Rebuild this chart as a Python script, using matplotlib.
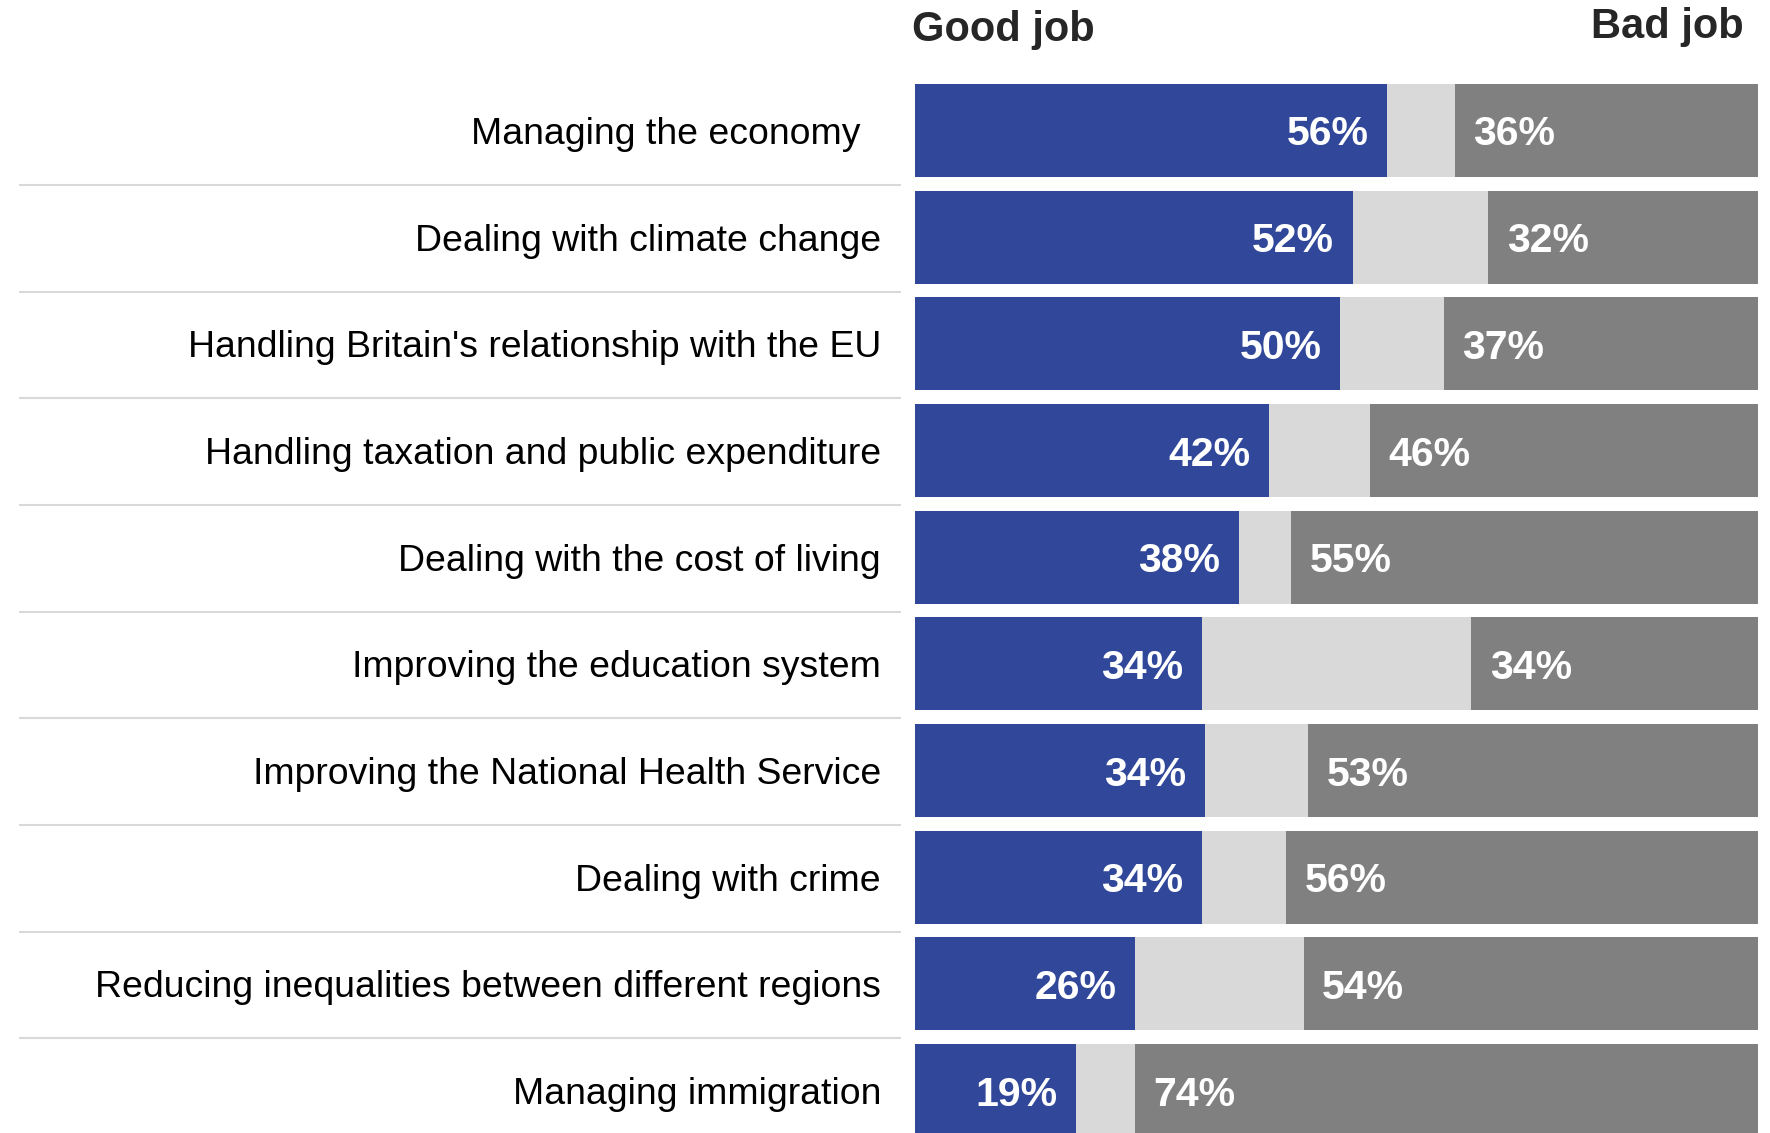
import matplotlib
matplotlib.use("Agg")
import matplotlib.pyplot as plt
import matplotlib.transforms as mtransforms

# ---------- DATA ----------
ISSUES = [
    "Managing the economy  ",
    "Dealing with climate change",
    "Handling Britain's relationship with the EU",
    "Handling taxation and public expenditure",
    "Dealing with the cost of living",
    "Improving the education system",
    "Improving the National Health Service",
    "Dealing with crime",
    "Reducing inequalities between different regions",
    "Managing immigration",
]
# bar lengths (labels show them rounded)
GOOD = [56.0, 51.9, 50.4, 42.0, 38.4, 34.0, 34.4, 34.0, 26.1, 19.1]
BAD = [36.0, 32.0, 37.3, 46.0, 55.4, 34.0, 53.4, 56.0, 53.9, 73.9]
DONT_KNOW = [100 - g - b for g, b in zip(GOOD, BAD)]

BLUE = "#30479a"
LIGHT = "#d9d9d9"
DARK = "#808080"

plt.rcParams["font.family"] = ["Liberation Sans", "DejaVu Sans"]

W, H = 1770, 1133
fig = plt.figure(figsize=(W / 100, H / 100), dpi=100)
ax = fig.add_axes([915 / W, 0, (1758 - 915) / W, 1])

pitch = 106.67
first = 130.5
ax.set_ylim((H - first) / pitch, -first / pitch)
ax.set_xlim(0, 100)
ax.axis("off")

rows = list(range(len(ISSUES)))
bh = 93 / pitch
left_bad = [g + d for g, d in zip(GOOD, DONT_KNOW)]
ax.barh(rows, GOOD, height=bh, color=BLUE, linewidth=0)
ax.barh(rows, DONT_KNOW, left=GOOD, height=bh, color=LIGHT, linewidth=0)
ax.barh(rows, BAD, left=left_bad, height=bh, color=DARK, linewidth=0)

pad = 2.2  # in % units (~18 px)
for i in rows:
    ax.text(GOOD[i] - pad, i, f"{round(GOOD[i])}%", ha="right", va="center_baseline",
            color="white", fontsize=29.5, fontweight="bold")
    ax.text(left_bad[i] + pad, i, f"{round(BAD[i])}%", ha="left", va="center_baseline",
            color="white", fontsize=29.5, fontweight="bold")

# category labels and separators on the left (figure x, data y)
trans = mtransforms.blended_transform_factory(fig.transFigure, ax.transData)
for i, name in enumerate(ISSUES):
    ax.text(881 / W, i, name, transform=trans, ha="right", va="center_baseline",
            fontsize=26.9, color="black", clip_on=False)
for i in rows[:-1]:
    ax.plot([19 / W, 901 / W], [i + 0.51, i + 0.51], transform=trans,
            color=LIGHT, linewidth=1.5, clip_on=False, solid_capstyle="butt")

fig.text(912 / W, 1 - 41 / H, "Good job", ha="left", va="baseline",
         fontsize=30, fontweight="bold", color="#262626")
fig.text(1744 / W, 1 - 38 / H, "Bad job", ha="right", va="baseline",
         fontsize=30, fontweight="bold", color="#262626")

fig.savefig("out.png", dpi=100)
